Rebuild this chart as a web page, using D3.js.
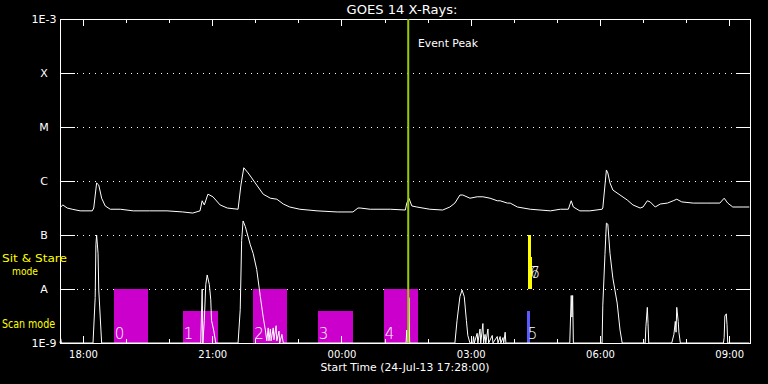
<!DOCTYPE html>
<html>
<head>
<meta charset="utf-8">
<script src="https://cdn.jsdelivr.net/npm/d3@7"></script>
<style>
body{margin:0;background:#000;}
svg{display:block;background:#000;}
text{font-family:"DejaVu Sans",sans-serif;fill:#fff;}
</style>
</head>
<body>
<svg id="chart" width="768" height="384"></svg>
<script>
/****DATA****/
const levels=[1e-9,1e-8,1e-7,1e-6,1e-5,1e-4,1e-3];
const levelLabels=["1E-9","A","B","C","M","X","1E-3"];
const majorTicks=["18:00","21:00","00:00","03:00","06:00","09:00"];

// GOES 14 long channel flux (W/m2)
const fluxTimes=["17:29","17:32","17:38","17:45","17:56","18:13","18:15","18:19","18:22","18:26","18:31","18:38","18:52","19:10","19:33","19:57","20:19","20:33","20:43","20:46","20:49","20:54","21:01","21:11","21:21","21:36","21:40","21:44","21:50","21:55","22:02","22:11","22:21","22:30","22:39","22:48","23:02","23:26","23:54","00:16","00:23","00:26","00:40","01:08","01:29","01:31","01:34","01:38","01:45","02:03","02:21","02:31","02:38","02:45","02:49","02:59","03:09","03:17","03:27","03:37","03:41","03:51","03:55","04:05","04:23","04:51","05:05","05:16","05:20","05:23","05:32","05:46","06:03","06:04","06:09","06:11","06:14","06:18","06:28","06:38","06:46","06:56","07:00","07:06","07:10","07:17","07:24","07:34","07:42","07:47","07:54","08:10","08:29","08:47","08:53","08:58","09:05","09:18","09:28"];
const fluxValues=[3.3e-7,3.6e-7,3.16e-7,3.0e-7,2.8e-7,2.8e-7,3.16e-7,9.2e-7,8.4e-7,4.8e-7,3.45e-7,3.0e-7,3.0e-7,2.8e-7,2.8e-7,2.8e-7,2.67e-7,2.55e-7,2.8e-7,4.3e-7,3.6e-7,5.7e-7,5.1e-7,3.6e-7,3.16e-7,3.0e-7,8.4e-7,1.76e-6,1.41e-6,1.14e-6,8.4e-7,5.7e-7,4.8e-7,4.6e-7,3.75e-7,3.3e-7,3.0e-7,2.8e-7,2.67e-7,2.67e-7,3.16e-7,3.16e-7,3.0e-7,3.0e-7,2.9e-7,3.9e-7,4.8e-7,3.45e-7,3.3e-7,3.0e-7,2.9e-7,3.3e-7,3.9e-7,5.5e-7,5.5e-7,4.8e-7,5.1e-7,5.1e-7,4.8e-7,4.3e-7,4.3e-7,3.9e-7,3.9e-7,3.3e-7,3.0e-7,2.8e-7,3.0e-7,3.0e-7,4.3e-7,3.3e-7,2.8e-7,2.8e-7,3.0e-7,3.16e-7,1.6e-6,1.41e-6,9.2e-7,6.8e-7,5.5e-7,4.45e-7,3.6e-7,3.16e-7,3.3e-7,4.3e-7,4.1e-7,3.3e-7,3.75e-7,3.9e-7,4.3e-7,4.6e-7,4.1e-7,3.9e-7,3.9e-7,3.9e-7,4.8e-7,3.9e-7,3.3e-7,3.3e-7,3.3e-7];

// flux derivative, normalised (A level = 0.5, B level = 1)
const derivTimes=["17:28","17:29","17:30","18:14","18:17","18:18","18:19","18:21","18:22","18:25","18:26","20:44","20:46","20:47","20:49","20:51","20:53","20:56","20:58","20:59","21:02","21:05","21:36","21:39","21:41","21:43","21:46","21:53","21:57","22:02","22:07","22:11","22:14","22:16","22:18","22:19","22:21","22:22","22:25","22:26","22:29","22:30","22:33","22:34","22:37","22:39","01:30","01:31","01:32","01:33","01:34","01:35","02:38","02:41","02:45","02:48","02:51","02:54","02:56","02:59","03:03","03:04","03:05","03:09","03:10","03:13","03:14","03:17","03:18","03:20","03:21","03:24","03:25","03:30","03:31","03:37","03:38","03:41","03:42","03:45","03:46","03:48","03:49","05:18","05:20","05:21","05:22","05:23","06:03","06:04","06:07","06:09","06:11","06:14","06:18","06:24","06:28","06:31","07:03","07:04","07:06","07:07","07:08","07:40","07:43","07:45","07:46","07:47","07:49","07:50","07:52","08:52","08:53","08:54","08:56","08:57","08:58","09:28"];
const derivValues=[0,0.04,0,0,0.42,0.91,1.0,0.83,0.49,0.12,0,0,0.5,0,0.21,0.54,0.63,0.54,0.4,0.21,0.12,0,0,0.31,0.95,1.13,1.08,0.91,0.83,0.68,0.43,0.24,0.12,0.02,0.14,0.02,0.13,0.02,0.14,0.03,0.16,0.02,0.11,0,0.08,0,0,0.12,0,0,0.42,0,0,0.21,0.43,0.49,0.43,0.21,0.07,0,0,0.06,0,0.09,0,0.13,0,0.18,0,0.08,0,0.13,0,0.07,0,0.06,0,0.06,0,0.05,0,0.1,0,0,0.44,0.24,0.44,0,0,0.35,0.82,1.11,1.1,0.83,0.6,0.37,0.12,0,0,0.15,0.33,0.18,0,0,0.08,0.2,0.1,0.33,0.2,0.1,0,0,0.05,0.25,0.27,0.17,0,0];

// scan mode observations
const scanLabels=["0","1","2","3","4","5"];
const scanStart=["18:43","20:19","21:57","23:27","00:59","04:18"];
const scanEnd=["19:31","21:08","22:44","00:16","01:47","04:22"];
const scanHeight=[0.5,0.3,0.5,0.3,0.5,0.3];
const scanColor=["#cc00cc","#cc00cc","#cc00cc","#cc00cc","#cc00cc","#5a5aff"];

// sit & stare observations
const stareLabels=["6","7"];
const stareStart=["04:20","04:21"];
const stareEnd=["04:24","04:25"];
const stareHeight=[1.0,0.8];

const eventPeak="01:33";

/****SCALES****/
function toDate(s){
    const p=s.split(":").map(Number);
    const day=p[0]<17?25:24;
    return new Date(2013,6,day,p[0],p[1]);
}

const svg=d3.select("#chart");
const x=d3.scaleTime().domain([toDate("17:28"),toDate("09:29")]).range([60,750]);
const y=d3.scaleLog().domain([1e-9,1e-3]).range([343,19]);
const yLow=d3.scaleLinear().domain([0,1]).range([343,235]);

const majors=majorTicks.map(toDate);
const minors=d3.timeHour.range(x.domain()[0],x.domain()[1]).filter(d=>d.getHours()%3!==0);

/****GRID****/
svg.append("g").selectAll("line").data(levels.slice(1,-1)).join("line")
    .attr("x1",77).attr("x2",734)
    .attr("y1",d=>Math.round(y(d))+0.5).attr("y2",d=>Math.round(y(d))+0.5)
    .attr("stroke","#fff").attr("stroke-dasharray","1,5");

/****BARS****/
const bars=svg.append("g").attr("shape-rendering","crispEdges");
bars.selectAll("rect.scan").data(scanLabels).join("rect").attr("class","scan")
    .attr("x",(d,i)=>x(toDate(scanStart[i])))
    .attr("width",(d,i)=>x(toDate(scanEnd[i]))-x(toDate(scanStart[i])))
    .attr("y",(d,i)=>yLow(scanHeight[i]))
    .attr("height",(d,i)=>yLow(0)-yLow(scanHeight[i]))
    .attr("fill",(d,i)=>scanColor[i]);
bars.selectAll("rect.stare").data(stareLabels).join("rect").attr("class","stare")
    .attr("x",(d,i)=>x(toDate(stareStart[i])))
    .attr("width",(d,i)=>x(toDate(stareEnd[i]))-x(toDate(stareStart[i])))
    .attr("y",(d,i)=>yLow(stareHeight[i]))
    .attr("height",(d,i)=>yLow(0.5)-yLow(stareHeight[i]))
    .attr("fill","#ffff00");

/****TRACES****/
const flux=fluxTimes.map((t,i)=>({t:toDate(t),v:fluxValues[i]}));
const deriv=derivTimes.map((t,i)=>({t:toDate(t),v:derivValues[i]}));

svg.append("path").datum(deriv)
    .attr("d",d3.line().x(d=>x(d.t)).y(d=>yLow(d.v)))
    .attr("fill","none").attr("stroke","#fff").attr("stroke-width",1);
svg.append("path").datum(flux)
    .attr("d",d3.line().x(d=>x(d.t)).y(d=>y(d.v)))
    .attr("fill","none").attr("stroke","#fff").attr("stroke-width",1);

/****BAR LABELS****/
svg.append("g").selectAll("text").data(scanLabels).join("text")
    .attr("x",(d,i)=>x(toDate(scanStart[i]))+1)
    .attr("y",yLow(0.04))
    .style("font-size","15px").style("font-weight","300")
    .text(d=>d);
svg.append("g").selectAll("text").data(stareLabels).join("text")
    .attr("x",(d,i)=>x(toDate(stareStart[1]))+1.5)
    .attr("y",yLow(0.6))
    .style("font-size","15px").style("font-weight","300")
    .text(d=>d);

/****AXES****/
function styleAxis(g,size){
    g.select(".domain").remove();
    g.selectAll("line").attr("stroke","#fff");
    g.selectAll("text").attr("fill","#fff").style("fill","#fff").style("font-size",size).attr("font-family",null);
}

const axes=svg.append("g").attr("shape-rendering","crispEdges");

axes.append("g").attr("transform","translate(0,343)")
    .call(d3.axisBottom(x).tickValues(majors).tickSize(-7).tickPadding(8).tickFormat(d3.timeFormat("%H:%M")))
    .call(g=>styleAxis(g,"10px"));
axes.append("g").attr("transform","translate(0,343)")
    .call(d3.axisBottom(x).tickValues(minors).tickSize(-4).tickFormat(""))
    .call(g=>styleAxis(g,"10px"));
axes.append("g").attr("transform","translate(0,19)")
    .call(d3.axisTop(x).tickValues(majors).tickSize(-7).tickFormat(""))
    .call(g=>styleAxis(g,"10px"));
axes.append("g").attr("transform","translate(0,19)")
    .call(d3.axisTop(x).tickValues(minors).tickSize(-4).tickFormat(""))
    .call(g=>styleAxis(g,"10px"));

axes.append("g").attr("transform","translate(60,0)")
    .call(d3.axisLeft(y).tickValues(levels).tickSize(-15).tickFormat((d,i)=>levelLabels[i]))
    .call(g=>styleAxis(g,"11px"))
    .call(g=>g.selectAll("text").attr("text-anchor","middle").attr("x",-16));
axes.append("g").attr("transform","translate(750,0)")
    .call(d3.axisRight(y).tickValues(levels).tickSize(-14).tickFormat(""))
    .call(g=>styleAxis(g,"11px"));

axes.append("rect")
    .attr("x",x.range()[0]).attr("y",y.range()[1])
    .attr("width",x.range()[1]-x.range()[0]).attr("height",y.range()[0]-y.range()[1])
    .attr("fill","none").attr("stroke","#fff");

/****EVENT PEAK****/
svg.append("line")
    .attr("x1",x(toDate(eventPeak))).attr("x2",x(toDate(eventPeak)))
    .attr("y1",y.range()[1]).attr("y2",y.range()[0])
    .attr("stroke","#99cc00").attr("stroke-width",2);
svg.append("text").attr("x",418).attr("y",47)
    .attr("textLength",60).attr("lengthAdjust","spacingAndGlyphs")
    .style("font-size","11px").text("Event Peak");

/****TITLES****/
svg.append("text").attr("x",402).attr("y",14).attr("text-anchor","middle")
    .attr("textLength",111).attr("lengthAdjust","spacingAndGlyphs")
    .style("font-size","12px").text("GOES 14 X-Rays:");
svg.append("text").attr("x",405).attr("y",371).attr("text-anchor","middle")
    .attr("textLength",169).attr("lengthAdjust","spacingAndGlyphs")
    .style("font-size","10.5px").text("Start Time (24-Jul-13 17:28:00)");

svg.append("text").attr("x",2).attr("y",262)
    .attr("textLength",65).attr("lengthAdjust","spacingAndGlyphs")
    .style("font-size","11px").style("fill","#ffff00").text("Sit & Stare");
svg.append("text").attr("x",25).attr("y",275).attr("text-anchor","middle")
    .attr("textLength",26).attr("lengthAdjust","spacingAndGlyphs")
    .style("font-size","11px").style("fill","#ffff00").text("mode");
svg.append("text").attr("x",2).attr("y",328)
    .attr("textLength",53).attr("lengthAdjust","spacingAndGlyphs")
    .style("font-size","12px").style("fill","#ffff00").text("Scan mode");
</script>
</body>
</html>
